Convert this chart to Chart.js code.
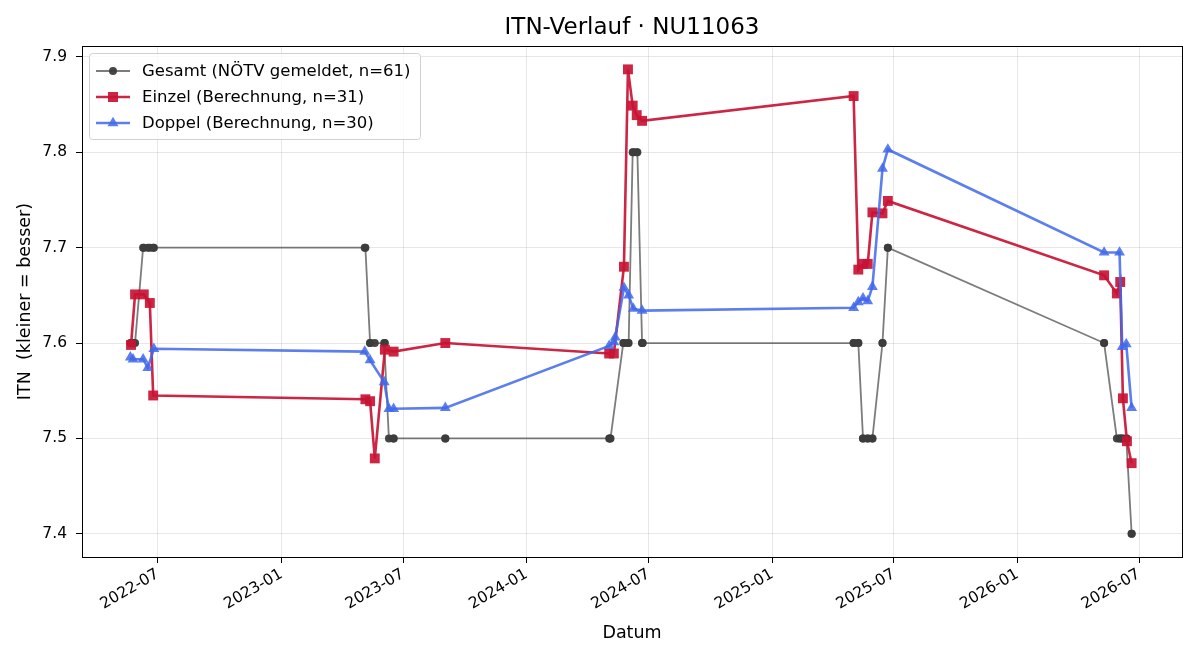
<!DOCTYPE html>
<html lang="de">
<head>
<meta charset="utf-8">
<title>ITN-Verlauf</title>
<script src="https://cdn.jsdelivr.net/npm/chart.js@4.4.1/dist/chart.umd.min.js"></script>
<style>
  html, body { margin: 0; padding: 0; background: #fff; }
  #itnChart { display: block; }
</style>
</head>
<body>
<canvas id="itnChart" width="1200" height="660"></canvas>
<script>
// Gesamt (NÖTV gemeldet) - Werte auf 0.1 gerundet
const gesamtDates = [
    '2022-05-21', '2022-05-22', '2022-05-25', '2022-05-28', '2022-06-09', '2022-06-10', '2022-06-16', '2022-06-19', '2022-06-24', '2022-06-25',
    '2023-05-05', '2023-05-06', '2023-05-13', '2023-05-13', '2023-05-20', '2023-06-03', '2023-06-04', '2023-06-10', '2023-06-17', '2023-06-17', '2023-09-02', '2023-09-02',
    '2024-05-03', '2024-05-04', '2024-05-05', '2024-05-24', '2024-05-25', '2024-05-31', '2024-06-01', '2024-06-07', '2024-06-08', '2024-06-13', '2024-06-14', '2024-06-21', '2024-06-21', '2024-06-22',
    '2025-05-02', '2025-05-02', '2025-05-09', '2025-05-09', '2025-05-16', '2025-05-16', '2025-05-23', '2025-05-23', '2025-05-30', '2025-05-30', '2025-06-14', '2025-06-14', '2025-06-22', '2025-06-22',
    '2026-05-10', '2026-05-10', '2026-05-29', '2026-06-02', '2026-06-03', '2026-06-06', '2026-06-07', '2026-06-12', '2026-06-13', '2026-06-20', '2026-06-20'
];
const gesamtValues = [
    7.6, 7.6, 7.6, 7.6, 7.7, 7.7, 7.7, 7.7, 7.7, 7.7,
    7.7, 7.7, 7.6, 7.6, 7.6, 7.6, 7.6, 7.5, 7.5, 7.5, 7.5, 7.5,
    7.5, 7.5, 7.5, 7.6, 7.6, 7.6, 7.6, 7.8, 7.8, 7.8, 7.8, 7.6, 7.6, 7.6,
    7.6, 7.6, 7.6, 7.6, 7.5, 7.5, 7.5, 7.5, 7.5, 7.5, 7.6, 7.6, 7.7, 7.7,
    7.6, 7.6, 7.5, 7.5, 7.5, 7.5, 7.5, 7.5, 7.5, 7.4, 7.4
];

// Einzel (Berechnung)
const einzelDates = [
    '2022-05-22', '2022-05-28', '2022-06-10', '2022-06-19', '2022-06-24',
    '2023-05-06', '2023-05-13', '2023-05-20', '2023-06-04', '2023-06-17', '2023-09-02',
    '2024-05-03', '2024-05-10', '2024-05-25', '2024-05-31', '2024-06-07', '2024-06-13', '2024-06-21',
    '2025-05-02', '2025-05-09', '2025-05-16', '2025-05-23', '2025-05-30', '2025-06-14', '2025-06-22',
    '2026-05-10', '2026-05-29', '2026-06-03', '2026-06-07', '2026-06-13', '2026-06-20'
];
const einzelValues = [
    7.598, 7.651, 7.651, 7.642, 7.545,
    7.541, 7.539, 7.479, 7.593, 7.591, 7.600,
    7.589, 7.589, 7.680, 7.887, 7.849, 7.839, 7.833,
    7.859, 7.677, 7.683, 7.683, 7.737, 7.736, 7.749,
    7.671, 7.652, 7.664, 7.542, 7.497, 7.474
];

// Doppel (Berechnung)
const doppelDates = [
    '2022-05-21', '2022-05-25', '2022-06-09', '2022-06-16', '2022-06-25',
    '2023-05-05', '2023-05-13', '2023-06-03', '2023-06-10', '2023-06-17', '2023-09-02',
    '2024-05-03', '2024-05-10', '2024-05-12', '2024-05-25', '2024-06-01', '2024-06-08', '2024-06-21',
    '2025-05-02', '2025-05-09', '2025-05-16', '2025-05-23', '2025-05-30', '2025-06-14', '2025-06-22',
    '2026-05-10', '2026-06-02', '2026-06-06', '2026-06-12', '2026-06-20'
];
const doppelValues = [
    7.585, 7.583, 7.583, 7.574, 7.594,
    7.591, 7.582, 7.559, 7.531, 7.531, 7.532,
    7.597, 7.601, 7.606, 7.658, 7.650, 7.636, 7.634,
    7.637, 7.643, 7.647, 7.644, 7.659, 7.783, 7.803,
    7.695, 7.695, 7.596, 7.599, 7.532
];

const xTickLabels = ['2022-07', '2023-01', '2023-07', '2024-01', '2024-07', '2025-01', '2025-07', '2026-01', '2026-07'];
const yTickValues = [7.4, 7.5, 7.6, 7.7, 7.8, 7.9];

const TITLE = 'ITN-Verlauf · NU11063';
const FONT = 'DejaVu Sans';
const toTime = d => Date.parse(d + 'T00:00:00Z');
const toPoints = (dates, values) => dates.map((d, i) => ({ x: toTime(d), y: values[i] }));

const GRAY_LINE = 'rgba(68, 68, 68, 0.7)';
const GRAY_DOT = 'rgba(60, 60, 60, 0.95)';
const RED = 'rgba(200, 20, 52, 0.92)';
const BLUE = 'rgba(65, 105, 235, 0.85)';

const legendEntries = [
    { text: 'Gesamt (NÖTV gemeldet, n=' + gesamtValues.length + ')', line: GRAY_LINE, fill: GRAY_DOT, width: 1.8, shape: 'circle' },
    { text: 'Einzel (Berechnung, n=' + einzelValues.length + ')', line: RED, fill: RED, width: 2.6, shape: 'rect' },
    { text: 'Doppel (Berechnung, n=' + doppelValues.length + ')', line: BLUE, fill: BLUE, width: 2.6, shape: 'triangle' }
];

function marker(ctx, shape, x, y, color) {
    ctx.fillStyle = color;
    ctx.beginPath();
    if (shape === 'circle') {
        ctx.arc(x, y, 4, 0, Math.PI * 2);
    } else if (shape === 'rect') {
        ctx.rect(x - 5, y - 5, 10, 10);
    } else {
        ctx.moveTo(x, y - 6.3);
        ctx.lineTo(x + 5.5, y + 3.2);
        ctx.lineTo(x - 5.5, y + 3.2);
        ctx.closePath();
    }
    ctx.fill();
}

// Titel, Rahmen + Legende oben links (wie matplotlib)
const framePlugin = {
    id: 'frameAndLegend',
    afterDraw(chart) {
        const ctx = chart.ctx;
        const a = chart.chartArea;
        ctx.save();

        // Titel zentriert über der Plotfläche
        ctx.font = '23px "' + FONT + '"';
        ctx.fillStyle = '#000';
        ctx.textAlign = 'center';
        ctx.textBaseline = 'middle';
        ctx.fillText(TITLE, (a.left + a.right) / 2, 28);
        ctx.textAlign = 'left';

        ctx.strokeStyle = '#000';
        ctx.lineWidth = 1;
        ctx.strokeRect(Math.round(a.left) + 0.5, Math.round(a.top) + 0.5, Math.round(a.right - a.left), Math.round(a.bottom - a.top));

        const bx = a.left + 7, by = a.top + 7, bw = 331, bh = 86;
        ctx.beginPath();
        ctx.roundRect(bx + 0.5, by + 0.5, bw, bh, 3);
        ctx.fillStyle = 'rgba(255,255,255,0.8)';
        ctx.fill();
        ctx.strokeStyle = '#d0d0d0';
        ctx.stroke();

        ctx.font = '16.5px "' + FONT + '"';
        ctx.textBaseline = 'middle';
        legendEntries.forEach((e, i) => {
            const y = by + 18 + i * 26;
            ctx.strokeStyle = e.line;
            ctx.lineWidth = e.width;
            ctx.beginPath();
            ctx.moveTo(bx + 7, y);
            ctx.lineTo(bx + 41, y);
            ctx.stroke();
            marker(ctx, e.shape, bx + 24, y, e.fill);
            ctx.fillStyle = '#000';
            ctx.fillText(e.text, bx + 53, y + 1);
        });
        ctx.restore();
    }
};

const ctx = document.getElementById('itnChart').getContext('2d');

const itnChart = new Chart(ctx, {
    type: 'line',
    data: {
        datasets: [
            {
                label: 'Gesamt (NÖTV gemeldet)',
                data: toPoints(gesamtDates, gesamtValues),
                borderColor: GRAY_LINE,
                backgroundColor: GRAY_DOT,
                pointBorderColor: GRAY_DOT,
                borderWidth: 1.8,
                pointStyle: 'circle',
                pointRadius: 4,
                pointBorderWidth: 0,
                tension: 0,
                order: 3
            },
            {
                label: 'Einzel (Berechnung)',
                data: toPoints(einzelDates, einzelValues),
                borderColor: RED,
                backgroundColor: RED,
                pointBorderColor: RED,
                borderWidth: 2.6,
                pointStyle: 'rect',
                pointRadius: 7,
                pointBorderWidth: 0,
                tension: 0,
                order: 2
            },
            {
                label: 'Doppel (Berechnung)',
                data: toPoints(doppelDates, doppelValues),
                borderColor: BLUE,
                backgroundColor: BLUE,
                pointBorderColor: BLUE,
                borderWidth: 2.6,
                pointStyle: 'triangle',
                pointRadius: 6.3,
                pointBorderWidth: 0,
                tension: 0,
                order: 1
            }
        ]
    },
    options: {
        responsive: false,
        animation: false,
        layout: { padding: { left: 0, right: 18, top: 46, bottom: 0 } },
        plugins: {
            legend: { display: false },
            tooltip: { enabled: false },
            title: { display: false }
        },
        scales: {
            x: {
                type: 'linear',
                min: toTime('2022-03-10'),
                max: toTime('2026-09-03'),
                afterBuildTicks: scale => {
                    scale.ticks = xTickLabels.map(l => ({ value: toTime(l + '-01') }));
                },
                afterFit: scale => { scale.height = 103; },
                ticks: {
                    autoSkip: false,
                    minRotation: 30,
                    maxRotation: 30,
                    padding: 2,
                    color: '#000',
                    font: { family: FONT, size: 15.5 },
                    callback: value => {
                        const d = new Date(value);
                        return d.getUTCFullYear() + '-' + String(d.getUTCMonth() + 1).padStart(2, '0');
                    }
                },
                grid: { color: 'rgba(176,176,176,0.3)', lineWidth: 1, tickColor: '#000', tickLength: 6, tickWidth: 1 },
                border: { display: true, color: '#000', width: 1 },
                title: {
                    display: true,
                    text: 'Datum',
                    color: '#000',
                    font: { family: FONT, size: 17.5 },
                    padding: { top: 0, bottom: 16 }
                }
            },
            y: {
                type: 'linear',
                min: 7.3756,
                max: 7.9115,
                afterBuildTicks: scale => {
                    scale.ticks = yTickValues.map(v => ({ value: v }));
                },
                afterFit: scale => { scale.width = 82; },
                ticks: {
                    padding: 9,
                    color: '#000',
                    font: { family: FONT, size: 15.5 },
                    callback: value => value.toFixed(1)
                },
                grid: { color: 'rgba(176,176,176,0.3)', lineWidth: 1, tickColor: '#000', tickLength: 6, tickWidth: 1 },
                border: { display: true, color: '#000', width: 1 },
                title: {
                    display: true,
                    text: 'ITN  (kleiner = besser)',
                    color: '#000',
                    font: { family: FONT, size: 17.5 },
                    padding: { top: 15, bottom: 0 }
                }
            }
        }
    },
    plugins: [framePlugin]
});
</script>
</body>
</html>
